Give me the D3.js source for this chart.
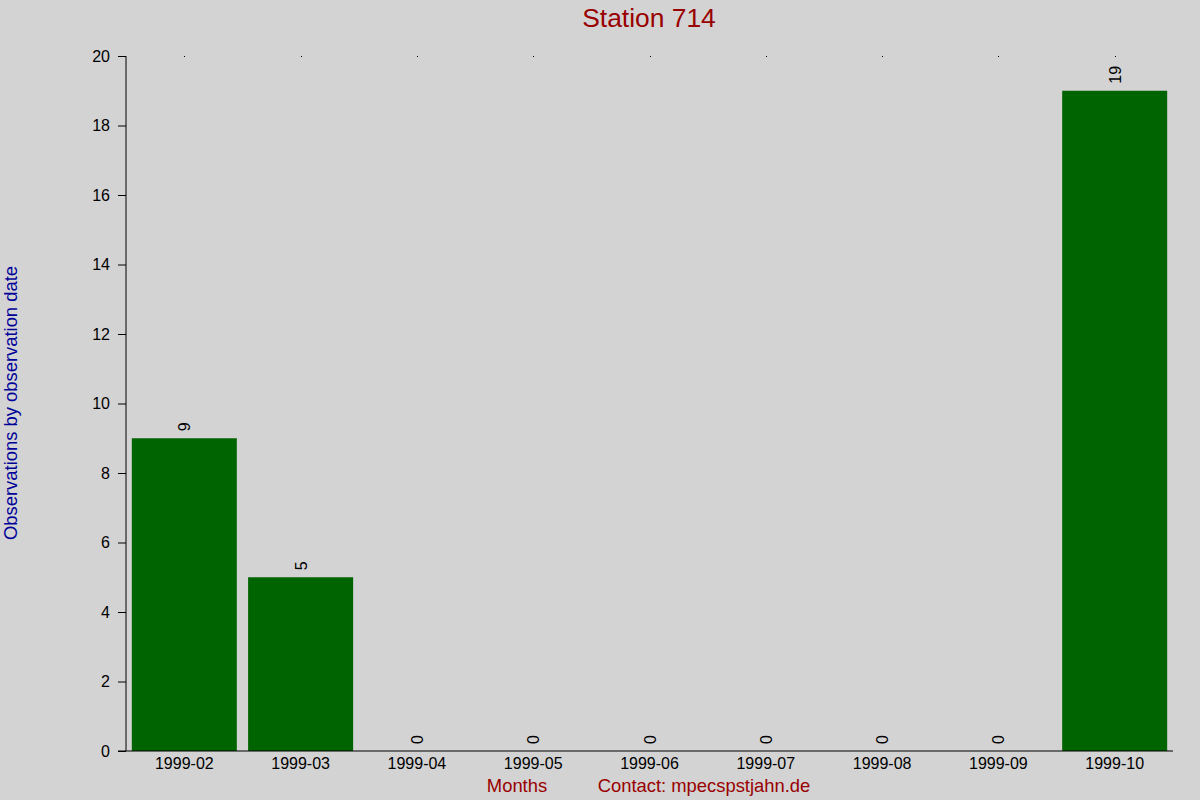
<!DOCTYPE html>
<html><head><meta charset="utf-8">
<script src="https://cdn.jsdelivr.net/npm/d3@7"></script>
<style>body{margin:0;background:#d3d3d3;}svg{display:block;font-family:"Liberation Sans",Arial,sans-serif;}</style>
</head><body><svg id="c" width="1200" height="800"></svg>
<script>
const months = ["1999-02","1999-03","1999-04","1999-05","1999-06","1999-07","1999-08","1999-09","1999-10"];
const counts = [9,5,0,0,0,0,0,0,19];
const yTicks = [0,2,4,6,8,10,12,14,16,18,20];
const title = "Station 714";
const yTitle = "Observations by observation date";
const xTitle = "Months";
const contact = "Contact: mpecspstjahn.de";

const svg = d3.select("#c");
svg.append("rect").attr("width",1200).attr("height",800).attr("fill","#d3d3d3");
const pL=126, pR=1173, pT=56, pB=751;
const x = d3.scaleBand().domain(months).range([pL,pR]).paddingInner(0.097).paddingOuter(0.05);
const y = d3.scaleLinear().domain([0,20]).range([pB,pT]);

svg.selectAll("rect.bar").data(months).enter().append("rect").attr("class","bar")
  .attr("x",d=>x(d)).attr("width",x.bandwidth())
  .attr("y",(d,i)=>y(counts[i])).attr("height",(d,i)=>pB-y(counts[i]))
  .attr("fill","#006400");

svg.selectAll("rect.dot").data(months).enter().append("rect").attr("class","dot")
  .attr("x",d=>Math.round(x(d)+x.bandwidth()/2)).attr("y",y(20)).attr("width",1).attr("height",1).attr("fill","#000");

svg.selectAll("text.val").data(months).enter().append("text").attr("class","val")
  .attr("transform",(d,i)=>`translate(${x(d)+x.bandwidth()/2+6},${y(counts[i])-7}) rotate(-90)`)
  .attr("font-size",16).attr("fill","#000").text((d,i)=>counts[i]);

const ya = svg.append("g").attr("transform",`translate(${pL},0)`)
  .call(d3.axisLeft(y).tickValues(yTicks).tickSize(8).tickPadding(8));
ya.select(".domain").attr("stroke","#000").attr("d",`M0,${pT}V${pB}`);
ya.selectAll("text").attr("font-size",16).attr("fill","#000").attr("font-family","Liberation Sans, Arial, sans-serif");
const xa = svg.append("g").attr("transform",`translate(0,${pB})`)
  .call(d3.axisBottom(x).tickSize(0).tickPadding(7));
xa.select(".domain").attr("stroke","#000").attr("d",`M${pL-8},0H${pR}`);
xa.selectAll("text").attr("font-size",16).attr("fill","#000").attr("font-family","Liberation Sans, Arial, sans-serif");

svg.append("text").attr("x",649).attr("y",27).attr("text-anchor","middle").attr("font-size",26.4).attr("fill","#990000").text(title);
svg.append("text").attr("transform","translate(17,403) rotate(-90)").attr("text-anchor","middle").attr("font-size",18.4).attr("fill","#000099").text(yTitle);
svg.append("text").attr("x",517).attr("y",792).attr("text-anchor","middle").attr("font-size",18.4).attr("fill","#990000").text(xTitle);
svg.append("text").attr("x",704).attr("y",792).attr("text-anchor","middle").attr("font-size",18.4).attr("fill","#990000").text(contact);
</script></body></html>
